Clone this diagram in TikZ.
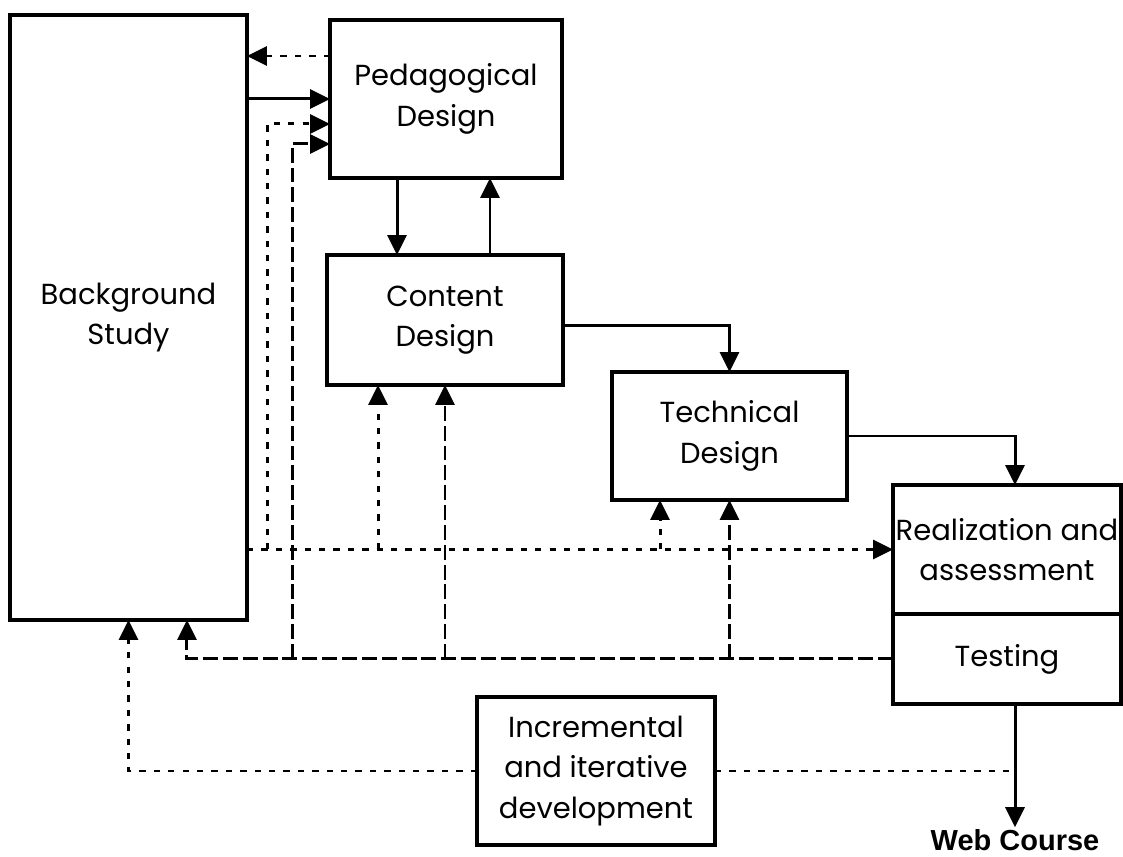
\documentclass[tikz,border=0pt]{standalone}
\usepackage{fontspec}
\setmainfont{Poppins}
\newfontfamily\webfont{Liberation Sans}
\usetikzlibrary{arrows.meta,positioning}

\begin{document}
\begin{tikzpicture}[x=0.02cm,y=-0.02cm,
    box/.style={draw,line width=1.9pt,align=center,inner sep=0pt,outer sep=0pt,
        font=\fontsize{16.5}{23}\selectfont},
    tip/.style={-{Triangle[length=4mm,width=3.8mm]}},
    solidline/.style={line width=1.7pt},
    dotline/.style={line width=1.7pt,dash pattern=on 3.6pt off 4.6pt},
    dashline/.style={line width=1.7pt,dash pattern=on 8.5pt off 2.8pt}]
    \useasboundingbox (0,0) rectangle (1123,857);
    \node (bg) [box,minimum width=4.74cm,minimum height=12.1cm] at (128.5,317.5) {Background\\Study};
    \node (ped) [box,minimum width=4.64cm,minimum height=3.16cm] at (446,99) {Pedagogical\\Design};
    \node (cont) [box,minimum width=4.72cm,minimum height=2.6cm] at (445,320) {Content\\Design};
    \node (tech) [box,minimum width=4.7cm,minimum height=2.56cm] at (729.5,436) {Technical\\Design};
    \node (real) [box,minimum width=4.56cm,minimum height=2.58cm] at (1007,549.5) {Realization and\\assessment};
    \node (test) [box,minimum width=4.56cm,minimum height=1.8cm,below=0pt of real] {Testing};
    \node (incr) [box,minimum width=4.76cm,minimum height=2.96cm] at (596,771) {Incremental\\and iterative\\development};
    \node (web) [font=\webfont\bfseries\fontsize{16.5}{20}\selectfont,inner sep=1pt] at (1015,840) {Web Course};
    \coordinate (pdot) at ([yshift=8.6mm]ped.west);
    \coordinate (pin1) at ([yshift=-5mm]ped.west);
    \coordinate (pin2) at ([yshift=-9mm]ped.west);
    \coordinate (pdx) at ([xshift=-1.26cm]ped.west);
    \coordinate (pdd) at ([xshift=-0.76cm]ped.west);
    \coordinate (pdn) at ([xshift=-0.98cm]ped.south);
    \coordinate (pup) at ([xshift=0.88cm]ped.south);
    \coordinate (cdot) at ([xshift=-1.34cm]cont.south);
    \coordinate (cout) at ([yshift=-0.12cm]cont.east);
    \coordinate (tdot) at ([xshift=-1.39cm]tech.south);
    \coordinate (rin) at ([xshift=0.16cm]real.north);
    \coordinate (bgd) at ([xshift=1.17cm]bg.south);
    \draw[dotline,tip] (pdot) -- (pdot -| bg.east);
    \draw[solidline,tip] (bg.east |- ped.west) -- (ped.west);
    \draw[dotline,tip] (pdx |- real.west) |- (pin1);
    \draw[dashline,tip] (pdd |- test.west) |- (pin2);
    \draw[solidline,tip] (pdn) -- (pdn |- cont.north);
    \draw[solidline,tip] (pup |- cont.north) -- (pup);
    \draw[solidline,tip] (cout) -| (tech.north);
    \draw[solidline,tip] (tech.east) -| (rin);
    \draw[dotline,tip] (bg.east |- real.west) -- (real.west);
    \draw[dotline,tip] (cdot |- real.west) -- (cdot);
    \draw[dotline,tip] (tdot |- real.west) -- (tdot);
    \draw[dashline,tip] (test.west) -| (bgd);
    \draw[dashline,tip] (cont.south |- test.west) -- (cont.south);
    \draw[dashline,tip] (tech.south |- test.west) -- (tech.south);
    \draw[solidline,tip] (web.north |- test.south) -- (web.north);
    \draw[dotline] (incr.east) -- (incr.east -| web.north);
    \draw[dotline,tip] (incr.west) -| (bg.south);
\end{tikzpicture}
\end{document}
